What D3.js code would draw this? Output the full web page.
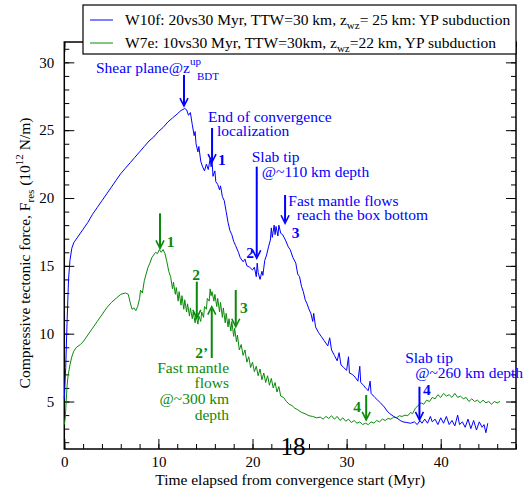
<!DOCTYPE html>
<html>
<head>
<meta charset="utf-8">
<script src="https://cdn.jsdelivr.net/npm/d3@7"></script>
<style>
  body { margin: 0; background: #fff; }
  text { font-family: "Liberation Serif", "Times New Roman", serif; }
</style>
</head>
<body>
<script>
// time (Myr) and force (1e12 N/m) for each run
const blueT = [0,0.15,0.3,0.45,0.6,0.8,1,1.5,2,2.5,3,3.5,4,4.5,5,5.5,6,6.5,7,7.5,8,8.5,9,9.5,10,10.5,11,11.5,12,12.4,12.8,13,13.2,13.4,13.6,13.8,13.9,14,14.2,14.3,14.5,14.7,14.9,15.1,15.3,15.5,15.6,15.7,15.8,16,16.1,16.3,16.5,16.6,16.8,17,17.2,17.4,17.6,17.8,18,18.2,18.5,18.7,19,19.2,19.4,19.7,20,20.2,20.4,20.5,20.6,20.8,21,21.1,21.3,21.5,21.7,21.9,22,22.1,22.3,22.4,22.5,22.7,22.8,23,23.2,23.5,23.8,24,24.3,24.6,24.8,25,25.2,25.4,25.6,25.8,26,26.2,26.4,26.5,26.7,27,27.3,27.6,28,28.2,28.4,28.7,29,29.2,29.4,29.7,30,30.2,30.3,30.6,30.9,31.2,31.4,31.5,31.8,32,32.3,32.5,32.6,33,33.3,33.6,34,34.3,34.6,35,35.3,35.7,36,36.4,36.8,37.2,37.5,37.8,38,38.3,38.6,38.9,39.1,39.4,39.7,40,40.3,40.6,40.9,41.2,41.5,41.8,42,42.3,42.6,42.9,43.2,43.5,43.8,44.1,44.4,44.6,44.8,45];
const blueF = [5.2,7.5,11,14,15.4,16.3,16.7,17.2,17.7,18.2,18.8,19.3,19.8,20.3,20.8,21.3,21.8,22.2,22.6,23,23.4,23.8,24.2,24.5,24.9,25.2,25.6,25.9,26.2,26.45,26.6,26.5,26.1,26.3,25.4,24.6,24.9,24,23.4,23.8,22.7,22.3,22,22.5,22.1,22.9,22.3,22.8,21.6,22,21.2,21,20.6,20.9,20.1,19.8,19,18.2,17.6,17.3,16.8,16.5,16,15.6,15.3,15.5,15,14.9,14.7,14.9,14.2,15.2,14.5,14,14.6,14.3,15.4,15.8,16.4,16.9,17.8,17.1,18,17.3,17.9,17.2,18,17.4,17.3,16.9,16.4,16.2,15.6,15.2,14.4,14.2,13.5,13.1,12.5,12.2,11.8,11.5,10.9,11.5,10.5,10.1,9.8,9.5,9.1,9.7,8.8,8.4,8,8.6,7.7,7.5,7.3,8.3,7.1,7,6.8,6.5,7.6,6.4,6.2,6,5.8,6.5,5.6,5.3,5.1,4.9,4.6,4.3,4.1,3.9,3.8,3.6,3.5,3.45,3.4,3.5,3.3,3.6,3.4,3.7,3.4,3.9,3.5,3.7,3.3,3.8,3.4,3.9,3.3,3.6,3.2,4,3.3,3.5,3.1,3.7,3,3.6,2.9,3.5,3.1,3.3,2.7,3.4];

const greenT = [0,0.1,0.2,0.3,0.4,0.6,0.8,1,1.3,1.7,2,2.5,3,3.5,4,4.5,5,5.5,6,6.5,6.8,7,7.2,7.4,7.6,7.8,8,8.1,8.3,8.5,8.7,8.9,9.1,9.3,9.5,9.7,9.9,10.1,10.3,10.5,10.7,10.9,11.1,11.3,11.5,11.6,11.8,11.9,12.1,12.2,12.4,12.5,12.7,12.8,13,13.1,13.3,13.4,13.6,13.7,13.9,14,14.2,14.3,14.5,14.6,14.8,14.9,15.1,15.2,15.4,15.5,15.6,15.7,15.9,16,16.2,16.3,16.5,16.6,16.8,16.9,17.1,17.2,17.4,17.5,17.7,17.8,18,18.1,18.3,18.4,18.6,18.8,19,19.2,19.4,19.6,19.8,20,20.2,20.4,20.6,20.8,21,21.2,21.4,21.6,21.8,22,22.2,22.4,22.6,22.8,23,23.3,23.6,23.9,24.2,24.5,24.8,25.2,25.6,26,26.4,26.8,27.2,27.5,27.8,28.1,28.4,28.7,29,29.3,29.6,29.9,30.2,30.5,30.8,31.1,31.4,31.7,32,32.3,32.6,32.9,33.2,33.5,33.8,34.1,34.4,34.7,35,35.3,35.6,35.9,36.2,36.5,36.8,37,37.3,37.6,37.9,38.2,38.5,38.8,39.1,39.4,39.7,40,40.3,40.6,40.9,41.2,41.5,41.8,42.1,42.4,42.7,43,43.3,43.6,43.9,44.2,44.5,44.8,45.1,45.4,45.7,46,46.3];
const greenF = [3.3,3.8,5,6.2,6.9,7.7,8.3,8.7,9,9.2,9.4,9.9,10.4,10.9,11.4,11.9,12.3,12.6,12.9,13,12.9,12.3,11.8,11.9,11.7,12,12.6,13.2,13,13.9,14.4,14.9,15.2,15.6,15.8,16,15.9,16.2,16,16.2,15.9,15.3,14.6,14.2,13.3,13.8,12.9,13.4,12.4,13.1,12.1,12.8,11.8,12.5,11.6,12.2,11.3,11.9,11.1,11.6,10.8,11.4,10.7,11.3,10.9,11.6,11.2,12,11.8,12.6,12.4,13.3,12.8,13.1,12.4,12.9,12,12.6,11.6,12.3,11.2,11.9,10.8,11.5,10.5,11.1,10.2,10.9,9.8,10.4,9.4,9.9,8.8,9.2,8.4,8.8,7.9,8.3,7.5,7.9,7.2,7.6,6.9,7.4,6.6,7.1,6.4,6.9,6.2,6.7,6,6.4,5.7,6.1,5.4,5.3,5,4.8,4.7,4.5,4.4,4.2,4.1,3.95,3.9,3.8,3.85,3.7,3.9,3.75,3.95,3.7,3.9,3.6,3.8,3.55,3.7,3.45,3.6,3.4,3.5,3.3,3.4,3.3,3.5,3.4,3.6,3.5,3.7,3.6,3.75,3.7,3.85,3.8,3.95,3.9,4,3.95,4.2,4.1,4.5,4.7,4.9,4.8,5.1,5,5.3,5.2,5.5,5.3,5.6,5.4,5.5,5.3,5.6,5.3,5.4,5.2,5.3,5,5.2,5,5.1,4.9,5.1,4.9,5,4.8,5,4.9,5];

const xTicks = [0, 10, 20, 30, 40];
const yTicks = [5, 10, 15, 20, 25, 30];

const blue = "#0000ff", green = "#0a8a0a";
const legendLabels = [
  ["W10f: 20vs30 Myr, TTW=30 km, z", "wz", "= 25 km: YP subduction"],
  ["W7e: 10vs30 Myr, TTW=30km, z", "wz", "=22 km, YP subduction"]
];

// arrows: x, y from, y to (data units)
const arrows = [
  {c: blue, t: 12.72, f0: 29.07, f1: 26.78},
  {c: blue, t: 15.7, f0: 25.16, f1: 22.65},
  {c: blue, t: 20.45, f0: 22.31, f1: 15.56},
  {c: blue, t: 23.46, f0: 20.22, f1: 18.14},
  {c: blue, t: 37.74, f0: 6.09, f1: 3.64},
  {c: green, t: 10.17, f0: 18.87, f1: 16.29},
  {c: green, t: 14.08, f0: 13.83, f1: 11.16},
  {c: green, t: 15.67, f0: 8.21, f1: 11.99},
  {c: green, t: 18.22, f0: 13.22, f1: 10.51},
  {c: green, t: 32.08, f0: 5.48, f1: 3.64}
];

// notes: text, x, baseline (data units)
const notes = [
  {c: blue, s: "End of convergence", t: 15.28, f: 25.6},
  {c: blue, s: "localization", t: 16.23, f: 24.57},
  {c: blue, s: "Slab tip", t: 19.92, f: 22.68},
  {c: blue, s: "@~110 km depth", t: 20.99, f: 21.57},
  {c: blue, s: "Fast mantle flows", t: 23.81, f: 19.41},
  {c: blue, s: "reach the box bottom", t: 24.71, f: 18.38},
  {c: blue, s: "Slab tip", t: 36.22, f: 7.82},
  {c: blue, s: "@~260 km depth", t: 37.29, f: 6.71},
  {c: green, s: "Fast mantle", t: 17.51, f: 7.1, a: "end"},
  {c: green, s: "flows", t: 17.51, f: 6.0, a: "end"},
  {c: green, s: "@~300 km", t: 17.51, f: 4.82, a: "end"},
  {c: green, s: "depth", t: 17.51, f: 3.64, a: "end"}
];
const stages = [
  {c: blue, s: "1", t: 16.34, f: 22.43},
  {c: blue, s: "2", t: 20.17, f: 15.58, a: "end"},
  {c: blue, s: "3", t: 24.18, f: 17.05},
  {c: blue, s: "4", t: 38.13, f: 5.48},
  {c: green, s: "1", t: 10.89, f: 16.41},
  {c: green, s: "2", t: 14.0, f: 13.96, a: "middle"},
  {c: green, s: "2’", t: 15.28, f: 8.21, a: "end"},
  {c: green, s: "3", t: 18.68, f: 11.52},
  {c: green, s: "4", t: 31.54, f: 4.25, a: "end"}
];

const W = 526, H = 492;
const L = 64.3, R = 516, T = 42, B = 449;

const svg = d3.select("body").append("svg")
  .attr("width", W).attr("height", H);

const x = d3.scaleLinear().domain([0, 48]).range([L, R]);
const y = d3.scaleLinear().domain([1.5, 31.5]).range([B, T]);

// ticks pointing inward on all four sides
function ticks(axis, tx, major, minor) {
  let g = svg.append("g").attr("transform", tx);
  g.call(axis.tickValues(minor).tickSizeInner(-5).tickSizeOuter(0).tickFormat(""));
  let g2 = svg.append("g").attr("transform", tx);
  g2.call(axis.tickValues(major).tickSizeInner(-10).tickSizeOuter(0).tickPadding(6).tickFormat(d3.format("d")));
  [g, g2].forEach(s => { s.select(".domain").remove(); s.selectAll("line").attr("stroke", "#000"); });
  return g2;
}
const xMinor = d3.range(0, 49, 2), yMinor = d3.range(2, 32, 1);
let gx = ticks(d3.axisBottom(x), `translate(0,${B})`, xTicks, xMinor);
gx.selectAll("text").attr("font-size", 15).attr("dy", "0.71em").attr("y", 7);
let gy = ticks(d3.axisLeft(y), `translate(${L},0)`, yTicks, yMinor);
gy.selectAll("text").attr("font-size", 15).attr("x", -10);
let gt = ticks(d3.axisTop(x), `translate(0,${T})`, xTicks, xMinor);
gt.selectAll("text").remove();
let gr = ticks(d3.axisRight(y), `translate(${R},0)`, yTicks, yMinor);
gr.selectAll("text").remove();

svg.append("rect").attr("x", L).attr("y", T).attr("width", R - L).attr("height", B - T)
  .attr("fill", "none").attr("stroke", "#000").attr("stroke-width", 1.5);

const line = d3.line().x(d => x(d[0])).y(d => y(d[1]));
svg.append("path").datum(d3.zip(greenT, greenF)).attr("d", line)
  .attr("fill", "none").attr("stroke", green).attr("stroke-width", 1);
svg.append("path").datum(d3.zip(blueT, blueF)).attr("d", line)
  .attr("fill", "none").attr("stroke", blue).attr("stroke-width", 1);

// arrows
const ag = svg.append("g");
arrows.forEach(a => {
  let x0 = x(a.t), y0 = y(a.f0), y1 = y(a.f1);
  let dir = y1 > y0 ? 1 : -1;
  ag.append("line").attr("x1", x0).attr("x2", x0).attr("y1", y0).attr("y2", y1 - dir * 2)
    .attr("stroke", a.c).attr("stroke-width", 2);
  ag.append("path")
    .attr("d", `M${x0 - 4},${y1 - dir * 8}L${x0},${y1}L${x0 + 4},${y1 - dir * 8}`)
    .attr("fill", "none").attr("stroke", a.c).attr("stroke-width", 1.6);
});

svg.append("g").selectAll("text").data(notes).join("text")
  .attr("x", d => x(d.t)).attr("y", d => y(d.f))
  .attr("text-anchor", d => d.a || "start")
  .attr("font-size", 15.5).attr("fill", d => d.c).text(d => d.s);

svg.append("g").selectAll("text").data(stages).join("text")
  .attr("x", d => x(d.t)).attr("y", d => y(d.f))
  .attr("text-anchor", d => d.a || "start")
  .attr("font-size", 15.5).attr("font-weight", "bold").attr("fill", d => d.c).text(d => d.s);

// shear plane label with z^up_BDT
const sp = svg.append("text").attr("x", x(3.37)).attr("y", y(29.21))
  .attr("font-size", 15.5).attr("fill", blue);
sp.append("tspan").text("Shear plane@z");
sp.append("tspan").attr("font-size", 11).attr("dy", -8).text("up");
sp.append("tspan").attr("font-size", 11).attr("dy", 15).attr("dx", -4).text("BDT");

// legend
svg.append("rect").attr("x", 83).attr("y", 5).attr("width", 433).attr("height", 49)
  .attr("fill", "#fff").attr("stroke", "#000").attr("stroke-width", 1.2);
[blue, green].forEach((c, i) => {
  let yy = 20 + i * 23;
  svg.append("line").attr("x1", 90).attr("x2", 113).attr("y1", yy).attr("y2", yy)
    .attr("stroke", c).attr("stroke-width", 1);
  let t = svg.append("text").attr("x", 125).attr("y", yy + 4.5).attr("font-size", 15.5);
  t.append("tspan").text(legendLabels[i][0]);
  t.append("tspan").attr("font-size", 11).attr("dy", 4).text(legendLabels[i][1]);
  t.append("tspan").attr("dy", -4).text(legendLabels[i][2]);
});

// axis titles
svg.append("text").attr("x", (L + R) / 2).attr("y", 485).attr("text-anchor", "middle")
  .attr("font-size", 15.5).text("Time elapsed from convergence start (Myr)");
const yl = svg.append("text").attr("transform", "translate(30,253) rotate(-90)")
  .attr("text-anchor", "middle").attr("font-size", 15.5);
yl.append("tspan").text("Compressive tectonic force, F");
yl.append("tspan").attr("font-size", 11).attr("dy", 4).text("res");
yl.append("tspan").attr("dy", -4).text(" (10");
yl.append("tspan").attr("font-size", 11).attr("dy", -7).text("12");
yl.append("tspan").attr("dy", 7).text(" N/m)");

svg.append("text").attr("x", 293).attr("y", 455).attr("text-anchor", "middle")
  .attr("font-size", 25).text("18");
</script>
</body>
</html>
